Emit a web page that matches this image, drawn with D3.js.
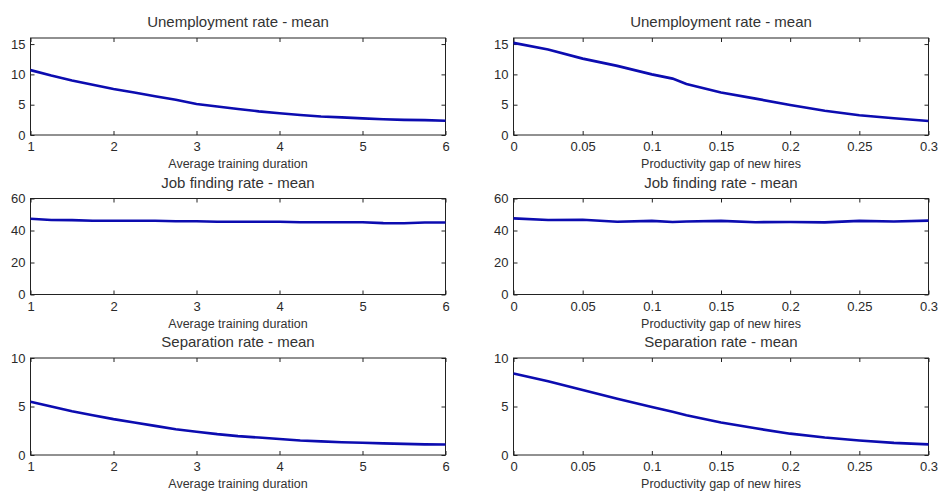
<!DOCTYPE html>
<html>
<head>
<meta charset="utf-8">
<script src="https://cdn.jsdelivr.net/npm/d3@7"></script>
<style>
  body { margin: 0; background: #fff; }
  svg { font-family: "Liberation Sans", Arial, sans-serif; }
  .tick text { fill: #2a2a2a; }
</style>
</head>
<body>
<svg id="chart" width="938" height="491"></svg>
<script>
// x grids
const durationX = [1, 1.25, 1.5, 1.75, 2, 2.25, 2.5, 2.75, 3, 3.25, 3.5, 3.75, 4,
                   4.25, 4.5, 4.75, 5, 5.25, 5.5, 5.75, 6];
const gapX = [0, 0.025, 0.05, 0.075, 0.1, 0.115, 0.125, 0.15, 0.175, 0.2, 0.225, 0.25, 0.275, 0.3];

// series
const unempByDuration = [10.7, 9.8, 9.0, 8.3, 7.6, 7.0, 6.4, 5.8, 5.1, 4.7, 4.3, 3.9, 3.6,
                         3.3, 3.05, 2.9, 2.75, 2.6, 2.5, 2.45, 2.35];
const unempByGap = [15.2, 14.1, 12.6, 11.4, 10.0, 9.3, 8.4, 7.0, 6.0, 4.95, 4.0, 3.25, 2.75, 2.3];
const jobFindByDuration = [47.3, 46.6, 46.5, 46.1, 46.1, 46.1, 46.1, 45.8, 45.8, 45.5, 45.5, 45.5, 45.5,
                           45.2, 45.2, 45.2, 45.2, 44.6, 44.5, 45.0, 45.0];
const jobFindByGap = [47.6, 46.6, 46.7, 45.5, 46.0, 45.3, 45.6, 46.0, 45.2, 45.3, 45.1, 46.0, 45.6, 46.2];
const sepByDuration = [5.5, 5.0, 4.5, 4.1, 3.7, 3.35, 3.0, 2.65, 2.4, 2.15, 1.95, 1.8, 1.65,
                       1.5, 1.4, 1.32, 1.27, 1.2, 1.15, 1.1, 1.08];
const sepByGap = [8.4, 7.6, 6.7, 5.8, 4.95, 4.45, 4.1, 3.35, 2.75, 2.2, 1.8, 1.5, 1.25, 1.1];

// ticks and labels
const durationTicks = [1, 2, 3, 4, 5, 6];
const gapTicks = [0, 0.05, 0.1, 0.15, 0.2, 0.25, 0.3];
const unempTicks = [0, 5, 10, 15];
const jobTicks = [0, 20, 40, 60];
const sepTicks = [0, 5, 10];
const titles = ["Unemployment rate - mean", "Job finding rate - mean", "Separation rate - mean"];
const xLabels = ["Average training duration", "Productivity gap of new hires"];

const svg = d3.select("#chart");

const cols = [
  { x0: 30.5, x1: 445.5, xs: durationX, xDomain: [1, 6], xTicks: durationTicks, label: xLabels[0] },
  { x0: 513.5, x1: 928.5, xs: gapX, xDomain: [0, 0.3], xTicks: gapTicks, label: xLabels[1] }
];
const rows = [
  { y0: 38, y1: 135, yDomain: [0, 16], yTicks: unempTicks, title: titles[0], series: [unempByDuration, unempByGap] },
  { y0: 198.5, y1: 294.5, yDomain: [0, 60], yTicks: jobTicks, title: titles[1], series: [jobFindByDuration, jobFindByGap] },
  { y0: 358, y1: 455, yDomain: [0, 10], yTicks: sepTicks, title: titles[2], series: [sepByDuration, sepByGap] }
];

rows.forEach(row => {
  cols.forEach((col, ci) => {
    const x = d3.scaleLinear().domain(col.xDomain).range([col.x0, col.x1]);
    const y = d3.scaleLinear().domain(row.yDomain).range([row.y1, row.y0]);
    const g = svg.append("g");

    // inward ticks on all four sides, MATLAB style
    g.append("g")
      .attr("transform", `translate(0,${row.y1})`)
      .call(d3.axisBottom(x).tickValues(col.xTicks).tickSize(-4).tickPadding(7)
        .tickFormat(d3.format("~g")))
      .call(a => a.select(".domain").remove())
      .call(a => a.selectAll("text").attr("font-size", 13))
      .call(a => a.selectAll("line").attr("stroke", "#222"));
    g.append("g")
      .attr("transform", `translate(0,${row.y0})`)
      .call(d3.axisTop(x).tickValues(col.xTicks).tickSize(-4).tickFormat(""))
      .call(a => a.select(".domain").remove())
      .call(a => a.selectAll("line").attr("stroke", "#222"));
    g.append("g")
      .attr("transform", `translate(${col.x0},0)`)
      .call(d3.axisLeft(y).tickValues(row.yTicks).tickSize(-4).tickPadding(5))
      .call(a => a.select(".domain").remove())
      .call(a => a.selectAll("text").attr("font-size", 13))
      .call(a => a.selectAll("line").attr("stroke", "#222"));
    g.append("g")
      .attr("transform", `translate(${col.x1},0)`)
      .call(d3.axisRight(y).tickValues(row.yTicks).tickSize(-4).tickFormat(""))
      .call(a => a.select(".domain").remove())
      .call(a => a.selectAll("line").attr("stroke", "#222"));

    g.selectAll(".tick text").attr("font-family", null);

    g.append("rect")
      .attr("x", col.x0).attr("y", row.y0)
      .attr("width", col.x1 - col.x0).attr("height", row.y1 - row.y0)
      .attr("fill", "none").attr("stroke", "#222").attr("stroke-width", 1);

    const data = col.xs.map((v, i) => [v, row.series[ci][i]]);
    g.append("path")
      .datum(data)
      .attr("fill", "none")
      .attr("stroke", "#0c0cb0")
      .attr("stroke-width", 2.6)
      .attr("d", d3.line().x(d => x(d[0])).y(d => y(d[1])));

    g.append("text")
      .attr("x", (col.x0 + col.x1) / 2)
      .attr("y", row.y0 - 16)
      .attr("dy", "0.35em")
      .attr("text-anchor", "middle")
      .attr("font-size", 15)
      .attr("fill", "#333")
      .text(row.title);

    g.append("text")
      .attr("x", (col.x0 + col.x1) / 2)
      .attr("y", row.y1 + 29)
      .attr("dy", "0.35em")
      .attr("text-anchor", "middle")
      .attr("font-size", 12.5)
      .attr("fill", "#333")
      .text(col.label);
  });
});
</script>
</body>
</html>
